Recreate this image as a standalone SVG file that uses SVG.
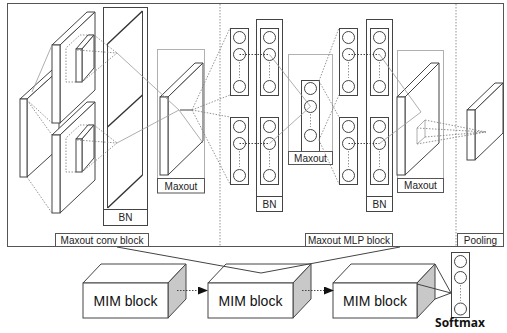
<svg xmlns="http://www.w3.org/2000/svg" width="507" height="333" viewBox="0 0 507 333">
<defs>
<style>
.f{fill:#fff;stroke:#444;stroke-width:1}
.g{fill:none;stroke:#b0b0b0;stroke-width:1}
.ln{fill:none;stroke:#444;stroke-width:1}
.bd{fill:none;stroke:#333;stroke-width:1.4}
.dt{fill:none;stroke:#777;stroke-width:0.8;stroke-dasharray:1.5,1.5}
.dk{fill:none;stroke:#333;stroke-width:0.9;stroke-dasharray:1.5,1.5}
.gl{fill:none;stroke:#999;stroke-width:0.8}
.lb{fill:#fff;stroke:#555;stroke-width:1}
.t{font-family:"Liberation Sans",Arial,sans-serif;font-size:10px;fill:#222;text-anchor:middle}
.m{font-family:"Liberation Sans",Arial,sans-serif;font-size:14px;fill:#111;text-anchor:middle}
.s{font-family:"Open Sans","DejaVu Sans",sans-serif;font-size:12px;font-weight:bold;fill:#111;text-anchor:middle}
.c{fill:#fff;stroke:#444;stroke-width:1}
.side{fill:#c8c8c8;stroke:#444;stroke-width:1}
</style>
<marker id="ah" markerWidth="10" markerHeight="8" refX="9" refY="4" orient="auto" markerUnits="userSpaceOnUse">
<polygon points="0,0 10,4 0,8" fill="#111"/>
</marker>
</defs>

<g id="frame">
<rect x="7.5" y="3.5" width="496" height="243" fill="none" stroke="#555" stroke-width="1"/>
<line x1="220" y1="4" x2="220" y2="246" class="dt"/>
<line x1="456" y1="4" x2="456" y2="246" class="dt"/>
</g>

<g id="input-slab">
<polygon class="f" points="20,99 27,99 59,70 52,70"/>
<polygon class="f" points="27,99 59,70 59,148 27,177"/>
<rect class="f" x="20" y="99" width="7" height="78"/>
</g>

<g id="conv-slab-upper">
<polygon class="f" points="52,45 60,45 95,12 87,12"/>
<polygon class="f" points="60,45 95,12 95,90 60,123"/>
<rect class="f" x="52" y="45" width="8" height="78"/>
<polyline class="dt" points="76,82 66,82 66,48 80,35 94,35"/>
<polygon class="f" points="76,49 82,49 94,35 88,35"/>
<polygon class="f" points="82,49 94,35 94,68 82,82"/>
<rect class="f" x="76" y="49" width="6" height="33"/>
</g>

<g id="conv-slab-lower">
<polygon class="f" points="52,135 60,135 95,102 87,102"/>
<polygon class="f" points="60,135 95,102 95,180 60,213"/>
<rect class="f" x="52" y="135" width="8" height="78"/>
<polyline class="dt" points="76,172 66,172 66,138 80,125 94,125"/>
<polygon class="f" points="76,139 82,139 94,125 88,125"/>
<polygon class="f" points="82,139 94,125 94,158 82,172"/>
<rect class="f" x="76" y="139" width="6" height="33"/>
</g>

<g id="bn-conv">
<rect class="f" x="103.5" y="7.5" width="44" height="218"/>
<line class="ln" x1="103.5" y1="209.5" x2="147.5" y2="209.5"/>
<line class="ln" x1="107.5" y1="44" x2="107.5" y2="208"/>
<line class="ln" x1="142.5" y1="11" x2="142.5" y2="175"/>
<line class="bd" x1="107.5" y1="44" x2="142.5" y2="11"/>
<line class="bd" x1="107.5" y1="127" x2="142.5" y2="95"/>
<line class="bd" x1="107.5" y1="208" x2="142.5" y2="175"/>
<text class="t" x="125.5" y="221">BN</text>
</g>

<g id="maxout-conv">
<rect class="g" x="157.5" y="49.5" width="47" height="143"/>
<polygon class="f" points="160,97 168,97 203,63 195,63"/>
<polygon class="f" points="168,97 203,63 203,141 168,175"/>
<rect class="f" x="160" y="97" width="8" height="78"/>
<rect class="lb" x="157.5" y="178.5" width="47" height="14.5"/>
<text class="t" x="181" y="189.5">Maxout</text>
</g>

<g id="mlp-col-a">
<rect class="f" x="230.5" y="28.5" width="18" height="67"/>
<circle class="c" cx="239.5" cy="37.5" r="6"/>
<circle class="c" cx="239.5" cy="54.5" r="6"/>
<line class="dt" x1="239.5" y1="62" x2="239.5" y2="78"/>
<circle class="c" cx="239.5" cy="86.5" r="6"/>
<rect class="f" x="230.5" y="117.5" width="18" height="67"/>
<circle class="c" cx="239.5" cy="126.5" r="6"/>
<circle class="c" cx="239.5" cy="143.5" r="6"/>
<line class="dt" x1="239.5" y1="151" x2="239.5" y2="167"/>
<circle class="c" cx="239.5" cy="175.5" r="6"/>
</g>

<g id="bn-mlp-1">
<rect class="f" x="256.5" y="19.5" width="26" height="192"/>
<line class="ln" x1="256.5" y1="196.5" x2="282.5" y2="196.5"/>
<rect class="f" x="260.5" y="28.5" width="18" height="67"/>
<circle class="c" cx="269.5" cy="37.5" r="6"/>
<circle class="c" cx="269.5" cy="54.5" r="6"/>
<line class="dt" x1="269.5" y1="62" x2="269.5" y2="78"/>
<circle class="c" cx="269.5" cy="86.5" r="6"/>
<rect class="f" x="260.5" y="117.5" width="18" height="67"/>
<circle class="c" cx="269.5" cy="126.5" r="6"/>
<circle class="c" cx="269.5" cy="143.5" r="6"/>
<line class="dt" x1="269.5" y1="151" x2="269.5" y2="167"/>
<circle class="c" cx="269.5" cy="175.5" r="6"/>
<text class="t" x="269.5" y="208">BN</text>
</g>

<g id="maxout-mlp-1">
<rect class="g" x="288.5" y="54.5" width="44" height="110"/>
<rect class="f" x="301.5" y="80.5" width="18" height="71"/>
<circle class="c" cx="310.5" cy="88.5" r="6"/>
<circle class="c" cx="310.5" cy="106.5" r="6"/>
<line class="dt" x1="310.5" y1="114" x2="310.5" y2="127"/>
<circle class="c" cx="310.5" cy="135.5" r="6"/>
<rect class="lb" x="288.5" y="151.5" width="44" height="13"/>
<text class="t" x="310.5" y="161.5">Maxout</text>
</g>

<g id="mlp-col-c">
<rect class="f" x="339.5" y="28.5" width="18" height="67"/>
<circle class="c" cx="348.5" cy="37.5" r="6"/>
<circle class="c" cx="348.5" cy="54.5" r="6"/>
<line class="dt" x1="348.5" y1="62" x2="348.5" y2="78"/>
<circle class="c" cx="348.5" cy="86.5" r="6"/>
<rect class="f" x="339.5" y="117.5" width="18" height="67"/>
<circle class="c" cx="348.5" cy="126.5" r="6"/>
<circle class="c" cx="348.5" cy="143.5" r="6"/>
<line class="dt" x1="348.5" y1="151" x2="348.5" y2="167"/>
<circle class="c" cx="348.5" cy="175.5" r="6"/>
</g>

<g id="bn-mlp-2">
<rect class="f" x="366.5" y="19.5" width="26" height="192"/>
<line class="ln" x1="366.5" y1="196.5" x2="392.5" y2="196.5"/>
<rect class="f" x="370.5" y="28.5" width="18" height="67"/>
<circle class="c" cx="379.5" cy="37.5" r="6"/>
<circle class="c" cx="379.5" cy="54.5" r="6"/>
<line class="dt" x1="379.5" y1="62" x2="379.5" y2="78"/>
<circle class="c" cx="379.5" cy="86.5" r="6"/>
<rect class="f" x="370.5" y="117.5" width="18" height="67"/>
<circle class="c" cx="379.5" cy="126.5" r="6"/>
<circle class="c" cx="379.5" cy="143.5" r="6"/>
<line class="dt" x1="379.5" y1="151" x2="379.5" y2="167"/>
<circle class="c" cx="379.5" cy="175.5" r="6"/>
<text class="t" x="379.5" y="208">BN</text>
</g>

<g id="maxout-mlp-2">
<rect class="g" x="397.5" y="50.5" width="46" height="142"/>
<polygon class="f" points="397,97 405,97 439,63 431,63"/>
<polygon class="f" points="405,97 439,63 439,143 405,175"/>
<rect class="f" x="397" y="97" width="8" height="78"/>
<polygon class="gl" points="417,128 425,120 425,137 417,144"/>
<rect class="lb" x="397.5" y="178.5" width="46" height="14"/>
<text class="t" x="420.5" y="189">Maxout</text>
</g>

<g id="pooling-slab">
<polygon class="f" points="467,110 475,110 503,83 495,83"/>
<polygon class="f" points="475,110 503,83 503,133 475,160"/>
<rect class="f" x="467" y="110" width="8" height="50"/>
</g>

<g id="labels">
<rect class="lb" x="55.5" y="233.5" width="93" height="13"/>
<text class="t" x="102" y="243.5">Maxout conv block</text>
<rect class="lb" x="305.5" y="233.5" width="87" height="13"/>
<text class="t" x="349" y="243.5">Maxout MLP block</text>
<rect class="lb" x="457.5" y="233.5" width="46" height="13"/>
<text class="t" x="480.5" y="243.5">Pooling</text>
</g>

<g id="connectors">
<line class="gl" x1="32" y1="92" x2="52" y2="45"/>
<line class="dt" x1="27" y1="100" x2="52" y2="123"/>
<line class="dt" x1="27" y1="100" x2="52" y2="135"/>
<line class="dt" x1="27" y1="177" x2="52" y2="213"/>
<line class="dt" x1="77" y1="50" x2="117" y2="53"/>
<line class="dt" x1="94" y1="35" x2="117" y2="53"/>
<line class="dt" x1="82" y1="82" x2="117" y2="53"/>
<line class="dt" x1="77" y1="140" x2="117" y2="143"/>
<line class="dt" x1="94" y1="125" x2="117" y2="143"/>
<line class="dt" x1="82" y1="172" x2="117" y2="143"/>
<line class="gl" x1="117" y1="53" x2="179" y2="110"/>
<line class="gl" x1="117" y1="143" x2="179" y2="110"/>
<line class="gl" x1="179" y1="110" x2="203" y2="143"/>
<line class="ln" x1="180" y1="110" x2="192" y2="110"/>
<line class="dt" x1="192" y1="110" x2="230" y2="28"/>
<line class="dt" x1="192" y1="110" x2="230" y2="95"/>
<line class="dt" x1="192" y1="110" x2="230" y2="117"/>
<line class="dt" x1="192" y1="110" x2="230" y2="184"/>
<line class="dk" x1="239.5" y1="54.5" x2="269.5" y2="54.5"/>
<line class="dk" x1="239.5" y1="143.5" x2="269.5" y2="143.5"/>
<line class="gl" x1="269.5" y1="54.5" x2="310.5" y2="106.5"/>
<line class="gl" x1="269.5" y1="143.5" x2="310.5" y2="106.5"/>
<line class="dt" x1="319" y1="81" x2="339" y2="28"/>
<line class="dt" x1="319" y1="81" x2="339" y2="117"/>
<line class="dt" x1="319" y1="140" x2="339" y2="95"/>
<line class="dt" x1="319" y1="140" x2="339" y2="184"/>
<line class="dk" x1="348.5" y1="54.5" x2="379.5" y2="54.5"/>
<line class="dk" x1="348.5" y1="143.5" x2="379.5" y2="143.5"/>
<line class="gl" x1="379.5" y1="54.5" x2="421" y2="112"/>
<line class="gl" x1="379.5" y1="143.5" x2="421" y2="112"/>
<line class="dt" x1="425" y1="120" x2="486" y2="132"/>
<line class="dt" x1="417" y1="128" x2="486" y2="132"/>
<line class="dt" x1="425" y1="137" x2="486" y2="132"/>
<line class="dt" x1="417" y1="144" x2="486" y2="132"/>
</g>

<g id="mim-block-1">
<polygon class="f" points="83,283 101,264 186,264 168,283"/>
<polygon class="side" points="168,283 186,264 186,299 168,318"/>
<rect class="f" x="83" y="283" width="85" height="35"/>
<text class="m" x="125.5" y="305.5">MIM block</text>
</g>

<g id="mim-block-2">
<polygon class="f" points="208,283 226,264 311,264 293,283"/>
<polygon class="side" points="293,283 311,264 311,299 293,318"/>
<rect class="f" x="208" y="283" width="85" height="35"/>
<text class="m" x="250.5" y="305.5">MIM block</text>
</g>

<g id="mim-block-3">
<polygon class="f" points="333,283 351,264 435,264 417,283"/>
<polygon class="side" points="417,283 435,264 435,299 417,318"/>
<rect class="f" x="333" y="283" width="84" height="35"/>
<text class="m" x="375" y="305.5">MIM block</text>
</g>

<g id="softmax">
<rect class="f" x="451.5" y="252.5" width="18" height="65"/>
<circle class="c" cx="460.5" cy="261.5" r="6"/>
<circle class="c" cx="460.5" cy="277.5" r="6"/>
<line class="dt" x1="460.5" y1="285" x2="460.5" y2="301"/>
<circle class="c" cx="460.5" cy="309" r="6"/>
<text class="s" x="460" y="327">Softmax</text>
</g>

<g id="bottom-connectors">
<line x1="177" y1="290.5" x2="207" y2="290.5" stroke="#333" stroke-width="0.9" stroke-dasharray="1.5,1.5" marker-end="url(#ah)"/>
<line x1="302" y1="290.5" x2="333" y2="290.5" stroke="#333" stroke-width="0.9" stroke-dasharray="1.5,1.5" marker-end="url(#ah)"/>
<polyline class="ln" stroke-width="0.8" points="117,247 261,273 400,247"/>
<line class="ln" stroke-width="0.8" x1="435" y1="264" x2="451" y2="293"/>
<line class="ln" stroke-width="0.8" x1="417" y1="284" x2="451" y2="293"/>
<line class="ln" stroke-width="0.8" x1="435" y1="299" x2="451" y2="293"/>
</g>
</svg>
